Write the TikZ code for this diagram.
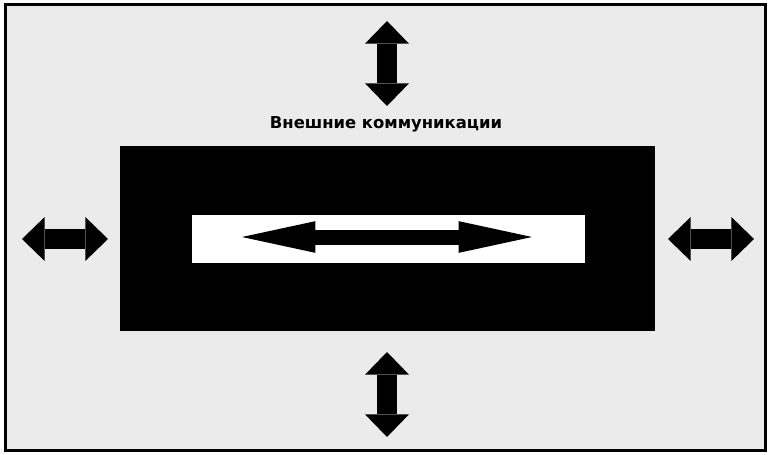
\documentclass[tikz,border=0pt]{standalone}
\usepackage{fontspec}
\setmainfont{DejaVu Sans}
\usetikzlibrary{arrows.meta,positioning}

\tikzset{
  bigtip/.tip={Triangle[length=0.68cm,width=1.32cm,line width=0pt]},
  bigarrow/.style={line width=0.6cm, line cap=butt, bigtip-bigtip},
  innertip/.tip={Triangle[length=2.2cm,width=0.95cm,line width=0pt]},
  innerarrow/.style={line width=0.45cm, line cap=butt, innertip-innertip}
}

\begin{document}
\begin{tikzpicture}[x=0.03cm, y=-0.03cm, line join=miter]
  \useasboundingbox (0,0) rectangle (769,454);
  % frame
  \draw[line width=3*0.03cm, fill=black!8] (5,5) rectangle (765,450);
  % boxes
  \node[fill=black, minimum width=535*0.03cm, minimum height=185*0.03cm, inner sep=0pt] (outer) at (387.5,238) {};
  \node[fill=white, minimum width=393*0.03cm, minimum height=48*0.03cm, inner sep=0pt] (inner) at (388.5,239) {};
  \node[font=\bfseries\fontsize{14}{14}\selectfont] (title) at (386,124) {Внешние коммуникации};
  % arrow ends
  \coordinate (top1) at (387,21);
  \coordinate (top2) at (387,106);
  \coordinate (bot1) at (387,352);
  \coordinate (bot2) at (387,437);
  \coordinate (lft1) at (22,239);
  \coordinate (lft2) at (108,239);
  \coordinate (rgt1) at (668,239);
  \coordinate (rgt2) at (754,239);
  \coordinate (in1) at (242,237);
  \coordinate (in2) at (532,237);
  \draw[bigarrow] (top1) -- (top2);
  \draw[bigarrow] (bot1) -- (bot2);
  \draw[bigarrow] (lft1) -- (lft2);
  \draw[bigarrow] (rgt1) -- (rgt2);
  \draw[innerarrow] (in1) -- (in2);
\end{tikzpicture}
\end{document}
